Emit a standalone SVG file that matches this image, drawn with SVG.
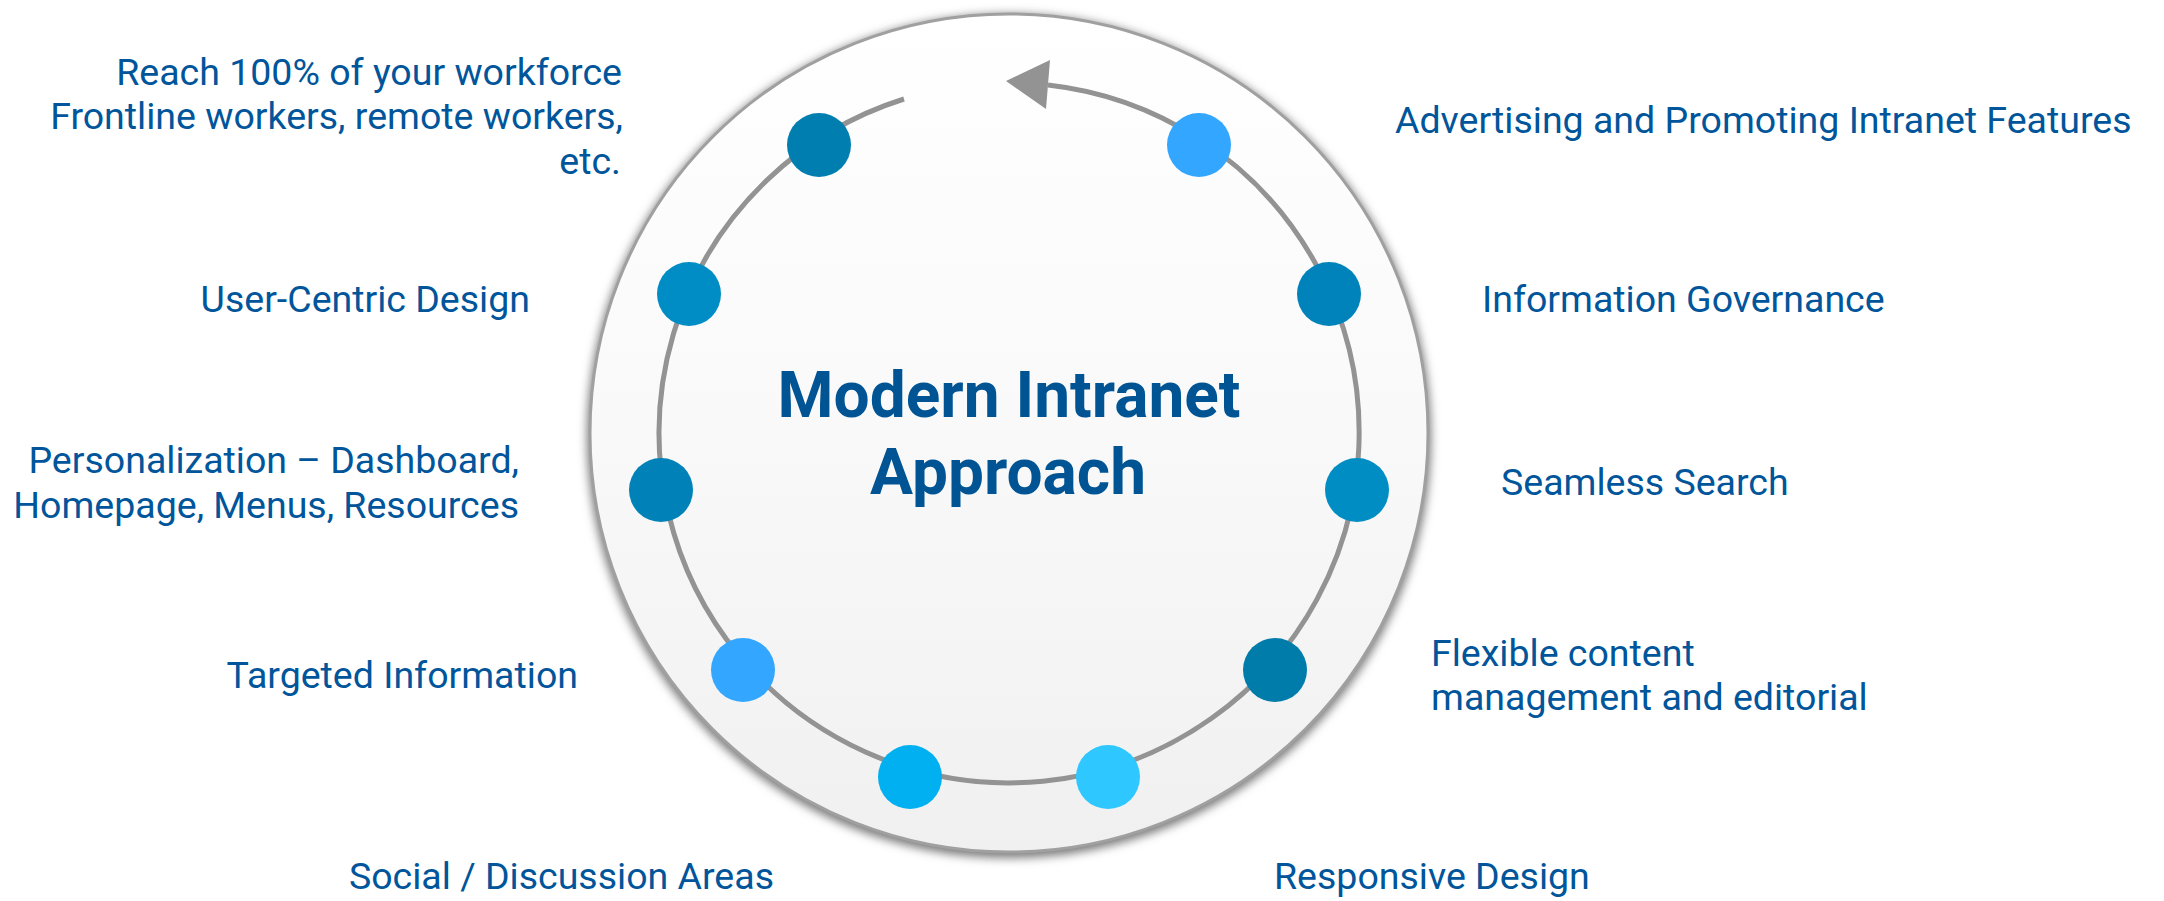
<svg xmlns="http://www.w3.org/2000/svg" width="2164" height="901" viewBox="0 0 2164 901">
  <defs>
    <linearGradient id="discFill" x1="0" y1="0" x2="0" y2="1">
      <stop offset="0" stop-color="#ffffff"/>
      <stop offset="0.5" stop-color="#f9f9f9"/>
      <stop offset="1" stop-color="#f0f0f0"/>
    </linearGradient>
    <filter id="shadow" x="-10%" y="-10%" width="120%" height="120%">
      <feGaussianBlur stdDeviation="5"/>
    </filter>
  </defs>
  <style>
    .lbl { font-family: Roboto, "Liberation Sans", sans-serif; font-size: 37.5px; fill: #00559b; }
    .title { font-family: Roboto, "Liberation Sans", sans-serif; font-size: 64px; font-weight: bold; fill: #005494; }
    .track { fill: none; stroke: #939393; stroke-width: 5; }
  </style>
  <rect width="2164" height="901" fill="#ffffff"/>

  <g id="disc">
    <circle cx="1009" cy="436" r="422" fill="#7a7a7a" filter="url(#shadow)"/>
    <circle cx="1009" cy="433" r="419" fill="url(#discFill)" stroke="#a0a0a0" stroke-width="3"/>
  </g>

  <g id="connectors">
    <path class="track" d="M 904 99 A 350 350 0 1 0 1048 85"/>
    <polygon points="1006,81 1050,60 1046,109" fill="#939393"/>
  </g>

  <g id="title">
    <text class="title" x="1009" y="417" text-anchor="middle">Modern Intranet</text>
    <text class="title" x="1008" y="494" text-anchor="middle">Approach</text>
  </g>

  <g id="node-reach">
    <circle cx="819" cy="145" r="32" fill="#007eb0"/>
    <text class="lbl" text-anchor="end"><tspan x="622" y="85">Reach 100% of your workforce</tspan><tspan x="623" y="129">Frontline workers, remote workers,</tspan><tspan x="621" y="174">etc.</tspan></text>
  </g>
  <g id="node-advertising">
    <circle cx="1199" cy="145" r="32" fill="#33a6ff"/>
    <text class="lbl" x="1395" y="133">Advertising and Promoting Intranet Features</text>
  </g>
  <g id="node-user-centric">
    <circle cx="689" cy="294" r="32" fill="#008cc4"/>
    <text class="lbl" x="530" y="312" text-anchor="end">User-Centric Design</text>
  </g>
  <g id="node-governance">
    <circle cx="1329" cy="294" r="32" fill="#0083ba"/>
    <text class="lbl" x="1482" y="312">Information Governance</text>
  </g>
  <g id="node-personalization">
    <circle cx="661" cy="490" r="32" fill="#0081b7"/>
    <text class="lbl" text-anchor="end"><tspan x="519" y="473">Personalization – Dashboard,</tspan><tspan x="519" y="518">Homepage, Menus, Resources</tspan></text>
  </g>
  <g id="node-search">
    <circle cx="1357" cy="490" r="32" fill="#008dc4"/>
    <text class="lbl" x="1501" y="495">Seamless Search</text>
  </g>
  <g id="node-targeted">
    <circle cx="743" cy="670" r="32" fill="#33a6ff"/>
    <text class="lbl" x="578" y="688" text-anchor="end">Targeted Information</text>
  </g>
  <g id="node-flexible">
    <circle cx="1275" cy="670" r="32" fill="#007caa"/>
    <text class="lbl"><tspan x="1431" y="666">Flexible content</tspan><tspan x="1431" y="710">management and editorial</tspan></text>
  </g>
  <g id="node-social">
    <circle cx="910" cy="777" r="32" fill="#00b0f0"/>
    <text class="lbl" x="774" y="889" text-anchor="end">Social / Discussion Areas</text>
  </g>
  <g id="node-responsive">
    <circle cx="1108" cy="777" r="32" fill="#2ec7ff"/>
    <text class="lbl" x="1274" y="889">Responsive Design</text>
  </g>
</svg>
